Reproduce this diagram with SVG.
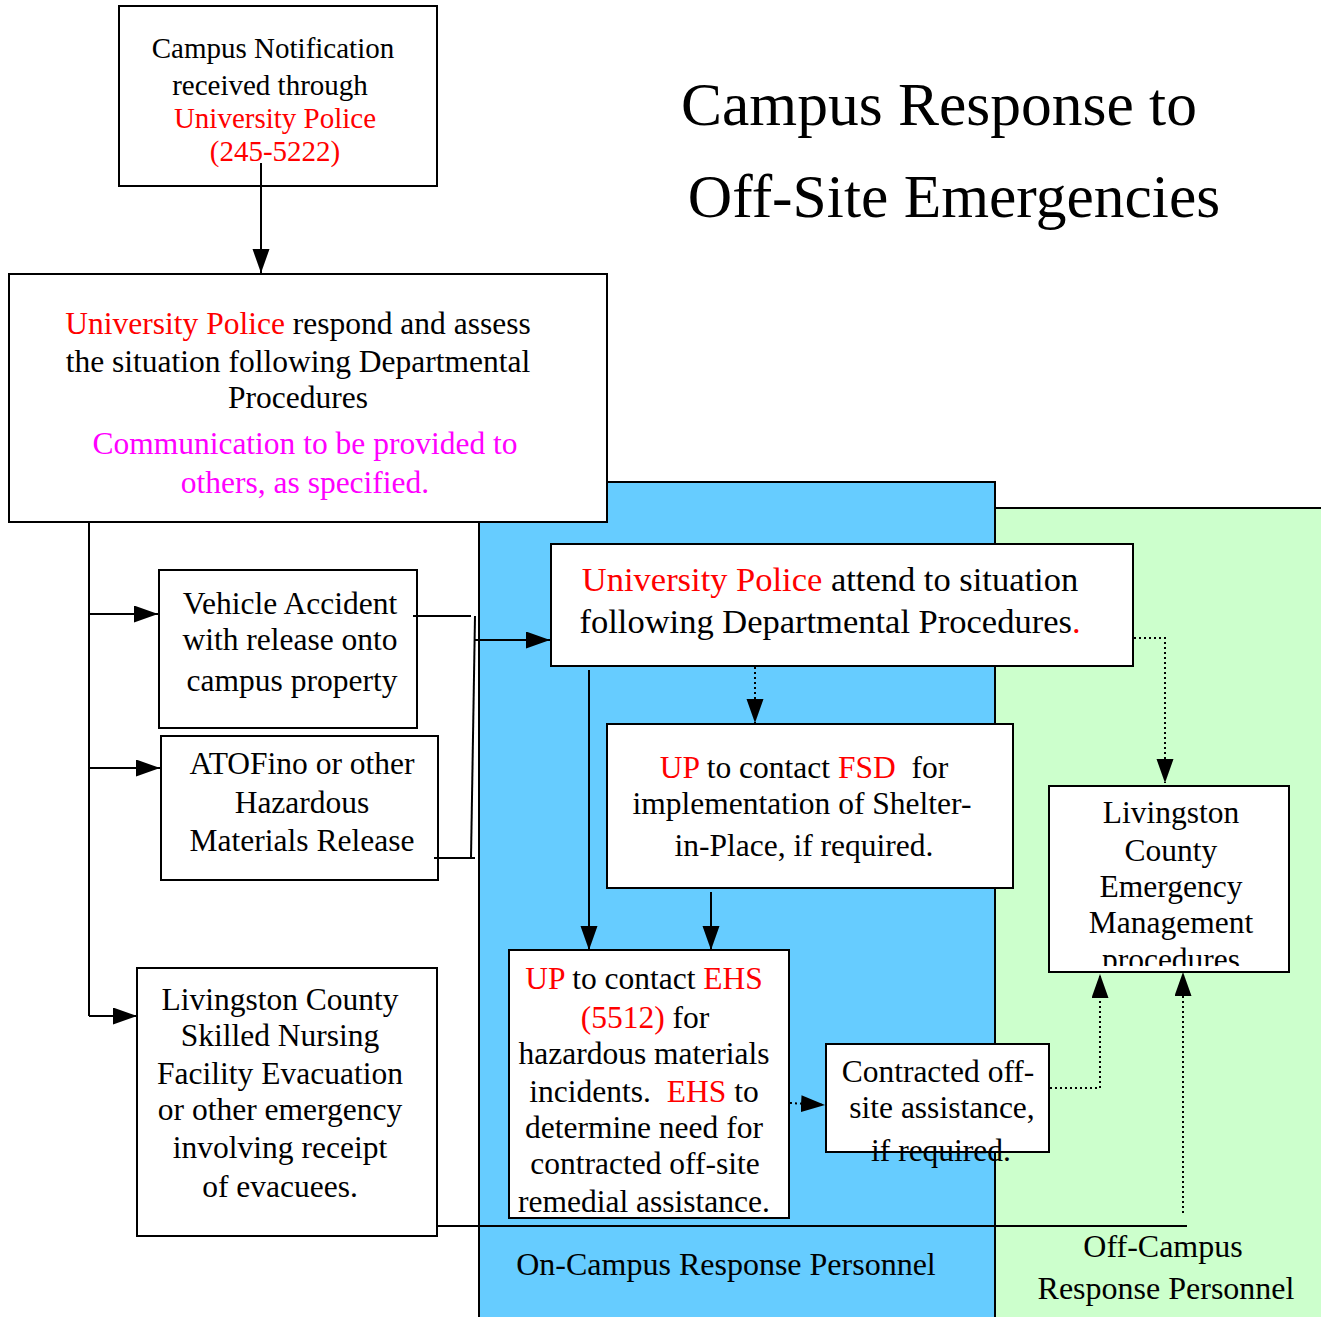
<svg xmlns="http://www.w3.org/2000/svg" width="1321" height="1317" viewBox="0 0 1321 1317">
<defs>
<style>
text{font-family:"Liberation Serif","Times New Roman",serif;fill:#000;text-anchor:middle}
.box{fill:#fff;stroke:#000;stroke-width:2}
.ln{fill:none;stroke:#000;stroke-width:2}
.dot{fill:none;stroke:#000;stroke-width:2;stroke-dasharray:2 3}
.r{fill:#ff0000}
.m{fill:#ff00ff}
.t31{font-size:31.5px}
</style>
<marker id="ah" markerUnits="userSpaceOnUse" markerWidth="25" markerHeight="18" refX="24" refY="8.5" orient="auto">
<path d="M0,0 L24,8.5 L0,17 z" fill="#000"/>
</marker>
<clipPath id="lcClip"><rect x="1049" y="787" width="240" height="179"/></clipPath>
</defs>
<rect x="0" y="0" width="1321" height="1317" fill="#fff"/>
<g id="zones">
<rect x="995" y="508" width="340" height="820" fill="#ccffcc" stroke="#000" stroke-width="2"/>
<rect x="479" y="482" width="516" height="846" fill="#66ccff" stroke="#000" stroke-width="2"/>
<text x="726" y="1275" style="font-size:32px">On-Campus Response Personnel</text>
<text x="1163" y="1257" style="font-size:32px">Off-Campus</text>
<text x="1166" y="1299" style="font-size:32px">Response Personnel</text>
</g>
<g id="title">
<text x="939" y="125" style="font-size:61.5px">Campus Response to</text>
<text x="954" y="217" style="font-size:61.5px">Off-Site Emergencies</text>
</g>
<g id="n-notification">
<rect class="box" x="119" y="6" width="318" height="180"/>
<text x="273" y="58" style="font-size:29px">Campus Notification</text>
<text x="270" y="95" style="font-size:29px">received through</text>
<text class="r" x="275" y="128" style="font-size:29px">University Police</text>
<text class="r" x="275" y="161" style="font-size:29px">(245-5222)</text>
</g>
<g id="n-assess">
<rect class="box" x="9" y="274" width="598" height="248"/>
<text class="t31" x="298" y="334"><tspan class="r">University Police</tspan> respond and assess</text>
<text class="t31" x="298" y="372">the situation following Departmental</text>
<text class="t31" x="298" y="408">Procedures</text>
<text class="t31 m" x="305" y="454">Communication to be provided to</text>
<text class="t31 m" x="305" y="493">others, as specified.</text>
</g>
<g id="n-vehicle">
<rect class="box" x="159" y="570" width="258" height="158"/>
<text class="t31" x="290" y="614">Vehicle Accident</text>
<text class="t31" x="290" y="650">with release onto</text>
<text class="t31" x="292" y="691">campus property</text>
</g>
<g id="n-atofino">
<rect class="box" x="161" y="736" width="277" height="144"/>
<text class="t31" x="302" y="774">ATOFino or other</text>
<text class="t31" x="302" y="813">Hazardous</text>
<text class="t31" x="302" y="851">Materials Release</text>
</g>
<g id="n-nursing">
<rect class="box" x="137" y="968" width="300" height="268"/>
<text class="t31" x="280" y="1010">Livingston County</text>
<text class="t31" x="280" y="1046">Skilled Nursing</text>
<text class="t31" x="280" y="1084">Facility Evacuation</text>
<text class="t31" x="280" y="1120">or other emergency</text>
<text class="t31" x="280" y="1158">involving receipt</text>
<text class="t31" x="280" y="1197">of evacuees.</text>
</g>
<g id="n-attend">
<rect class="box" x="551" y="544" width="582" height="122"/>
<text x="830" y="591" style="font-size:34.5px"><tspan class="r">University Police</tspan> attend to situation</text>
<text x="830" y="633" style="font-size:34.5px">following Departmental Procedures<tspan class="r">.</tspan></text>
</g>
<g id="n-fsd">
<rect class="box" x="607" y="724" width="406" height="164"/>
<text class="t31" x="804" y="778"><tspan class="r">UP</tspan> to contact <tspan class="r">FSD</tspan><tspan dx="8"> for</tspan></text>
<text class="t31" x="802" y="814">implementation of Shelter-</text>
<text class="t31" x="804" y="856">in-Place, if required.</text>
</g>
<g id="n-ehs">
<rect class="box" x="509" y="950" width="280" height="268"/>
<text class="t31" x="644" y="989"><tspan class="r">UP</tspan> to contact <tspan class="r">EHS</tspan></text>
<text class="t31" x="645" y="1028"><tspan class="r">(5512)</tspan> for</text>
<text class="t31" x="644" y="1064">hazardous materials</text>
<text class="t31" x="644" y="1102">incidents.<tspan dx="8" class="r"> EHS</tspan> to</text>
<text class="t31" x="644" y="1138">determine need for</text>
<text class="t31" x="645" y="1174">contracted off-site</text>
<text class="t31" x="644" y="1212">remedial assistance.</text>
</g>
<g id="n-contracted">
<rect class="box" x="826" y="1044" width="223" height="108"/>
<text class="t31" x="938" y="1082">Contracted off-</text>
<text class="t31" x="942" y="1118">site assistance,</text>
<text class="t31" x="941" y="1161">if required.</text>
</g>
<g id="n-lcem">
<rect class="box" x="1049" y="786" width="240" height="186"/>
<g clip-path="url(#lcClip)">
<text class="t31" x="1171" y="823">Livingston</text>
<text class="t31" x="1171" y="861">County</text>
<text class="t31" x="1171" y="897">Emergency</text>
<text class="t31" x="1171" y="933">Management</text>
<text class="t31" x="1171" y="970">procedures</text>
</g>
</g>
<g id="connectors">
<path class="ln" d="M261,163 V273" marker-end="url(#ah)"/>
<path class="ln" d="M89,522 V1016"/>
<path class="ln" d="M89,614 H158" marker-end="url(#ah)"/>
<path class="ln" d="M89,768 H160" marker-end="url(#ah)"/>
<path class="ln" d="M89,1016 H137" marker-end="url(#ah)"/>
<path class="ln" d="M413,616 H471"/>
<path class="ln" d="M475,616 L471,858"/>
<path class="ln" d="M434,858 H475"/>
<path class="ln" d="M474,640 H550" marker-end="url(#ah)"/>
<path class="dot" d="M755,667 V723" marker-end="url(#ah)"/>
<path class="ln" d="M589,670 V950" marker-end="url(#ah)"/>
<path class="ln" d="M711,892 V950" marker-end="url(#ah)"/>
<path class="dot" d="M1134,638 H1165 V783" marker-end="url(#ah)"/>
<path class="dot" d="M790,1103 L825,1105" marker-end="url(#ah)"/>
<path class="dot" d="M1050,1088 H1100 V974" marker-end="url(#ah)"/>
<path class="dot" d="M1183,1213 V972" marker-end="url(#ah)"/>
<path class="ln" d="M437,1226 H1187"/>
</g>
</svg>
